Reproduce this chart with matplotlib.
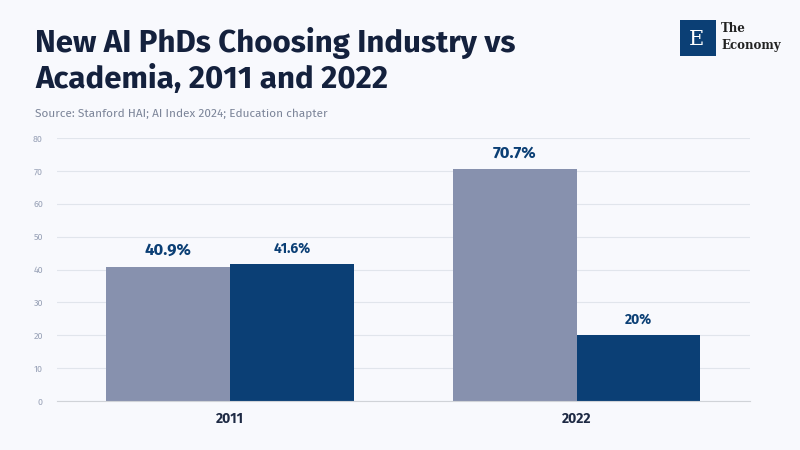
import matplotlib
matplotlib.use("Agg")
import matplotlib.pyplot as plt
import numpy as np

years = ["2011", "2022"]
industry = [40.9, 70.7]
academia = [41.6, 20.0]
industry_labels = ["40.9%", "70.7%"]
academia_labels = ["41.6%", "20%"]
yticks = [0, 10, 20, 30, 40, 50, 60, 70, 80]

bg = "#F8F9FD"
light = "#8791AE"
dark = "#0B3F75"
plt.rcParams['font.family'] = ['Fira Sans', 'Lato', 'DejaVu Sans']

fig = plt.figure(figsize=(8, 4.5), dpi=100, facecolor=bg)
ax = fig.add_axes([0.071, 0.109, 0.8665, 0.584], facecolor=bg)
x = np.arange(len(years))
w = 0.357
ax.bar(x - w/2, industry, w, color=light, zorder=2)
ax.bar(x + w/2, academia, w, color=dark, zorder=2)
for i in range(len(years)):
    ax.text(x[i] - w/2, industry[i] + 2.5, industry_labels[i], ha="center", va="bottom",
            fontsize=12, fontweight="bold", color=dark)
    ax.text(x[i] + w/2, academia[i] + 2.5, academia_labels[i], ha="center", va="bottom",
            fontsize=10, fontweight="bold", color=dark)
ax.set_xlim(-0.5, 1.5)
ax.set_ylim(0, 80)
ax.set_yticks(yticks)
ax.set_yticklabels([str(t) for t in yticks], fontsize=6.5, color="#9AA3B8")
ax.set_xticks(x)
ax.set_xticklabels(years, fontsize=10, fontweight="bold", color="#1E2A44")
ax.tick_params(axis="y", length=0, pad=10)
ax.tick_params(axis="x", length=0, pad=8)
ax.grid(axis="y", color="#E1E5EC", linewidth=0.8, zorder=0)
for s in ["top", "right", "left"]:
    ax.spines[s].set_visible(False)
ax.spines["bottom"].set_color("#D0D3D8")

fig.text(0.044, 0.79, "New AI PhDs Choosing Industry vs\nAcademia, 2011 and 2022", fontsize=22.5,
         fontweight="bold", color="#14213D", va="bottom", linespacing=1.22)
fig.text(0.044, 0.748, "Source: Stanford HAI; AI Index 2024; Education chapter", fontsize=8.5,
         color="#7C8599", va="center")

# logo
lx = fig.add_axes([680/800, 1 - 56/450, 36/800, 36/450])
lx.set_facecolor("#0B3F75")
lx.set_xticks([]); lx.set_yticks([])
for s in lx.spines.values():
    s.set_visible(False)
lx.text(0.45, 0.45, "E", color="white", fontsize=15, family="DejaVu Serif", ha="center", va="center")
fig.text(721/800, 1 - 28/450, "The", fontsize=8.5, family="DejaVu Serif", fontweight="bold", color="#222", va="center")
fig.text(721/800, 1 - 45/450, "Economy", fontsize=8.5, family="DejaVu Serif", fontweight="bold", color="#222", va="center")

fig.savefig("out.png", dpi=100, facecolor=bg)
